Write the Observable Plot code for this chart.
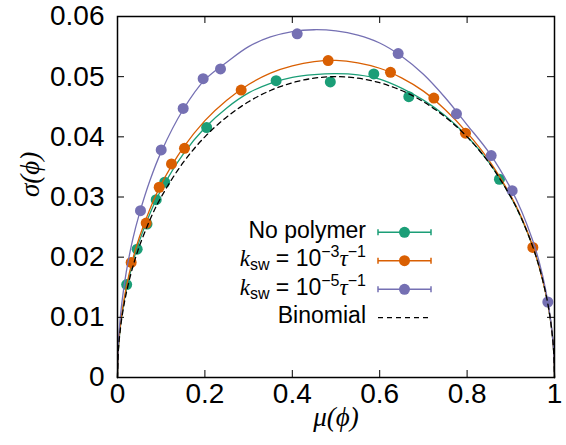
<!DOCTYPE html>
<html>
<head>
<meta charset="utf-8">
<script src="https://cdn.jsdelivr.net/npm/d3@7"></script>
<script src="https://cdn.jsdelivr.net/npm/@observablehq/plot@0.6"></script>
<style>
  html, body { margin: 0; padding: 0; background: #fff; }
</style>
</head>
<body>
<div id="chart"></div>
<script>
// ---- data ----
const xTicks = [0, 0.2, 0.4, 0.6, 0.8, 1];
const yTicks = [0, 0.01, 0.02, 0.03, 0.04, 0.05, 0.06];

// sampled positions along the fitted curves
const curveX = [0, 0.002, 0.005, 0.01, 0.02, 0.035, 0.05, 0.075, 0.1, 0.15, 0.2, 0.25, 0.3, 0.35, 0.4, 0.45, 0.5,
  0.55, 0.6, 0.65, 0.7, 0.75, 0.8, 0.85, 0.9, 0.925, 0.95, 0.965, 0.98, 0.99, 0.995, 0.998, 1];
const binomialY = [0, 0.00447, 0.00705, 0.00995, 0.0140, 0.01838, 0.02179, 0.02634, 0.0300, 0.03571, 0.0400, 0.0433, 0.04583, 0.0477, 0.04899, 0.04975, 0.0500,
  0.04975, 0.04899, 0.0477, 0.04583, 0.0433, 0.0400, 0.03571, 0.0300, 0.02634, 0.02179, 0.01838, 0.0140, 0.00995, 0.00705, 0.00447, 0];
const noPolymerFitY = [0, 0.00465, 0.00733, 0.01035, 0.01456, 0.01911, 0.02266, 0.02739, 0.0312, 0.0371, 0.0415, 0.0448, 0.0473, 0.0489, 0.0499, 0.05035, 0.0505,
  0.0503, 0.0496, 0.0481, 0.0461, 0.0435, 0.0401, 0.03575, 0.0300, 0.02634, 0.02179, 0.01838, 0.0140, 0.00995, 0.00705, 0.00447, 0];
const k3FitY = [0, 0.00478, 0.00754, 0.01065, 0.0150, 0.01967, 0.0233, 0.02815, 0.0321, 0.03815, 0.0427, 0.0461, 0.0487, 0.0506, 0.0518, 0.0525, 0.0527,
  0.0523, 0.0514, 0.0498, 0.0476, 0.0445, 0.0407, 0.0361, 0.0302, 0.0265, 0.02185, 0.0184, 0.0140, 0.00995, 0.00705, 0.00447, 0];
const k5FitY = [0, 0.0056, 0.0088, 0.01245, 0.0175, 0.0230, 0.0272, 0.0329, 0.0375, 0.0445, 0.0495, 0.0524, 0.0550, 0.0566, 0.0575, 0.0578, 0.0576,
  0.0569, 0.0556, 0.0534, 0.0504, 0.0465, 0.0420, 0.0374, 0.0314, 0.0276, 0.0228, 0.0192, 0.0145, 0.0102, 0.0072, 0.0046, 0];

// measured points
const noPolymerMu    = [0.021, 0.045, 0.0675, 0.0886, 0.108, 0.204, 0.363, 0.487, 0.5865, 0.6666, 0.874];
const noPolymerSigma = [0.01545, 0.02133, 0.0255, 0.02955, 0.03245, 0.04155, 0.04933, 0.04912, 0.05045, 0.04667, 0.03295];
const k3Mu    = [0.0313, 0.0656, 0.0954, 0.1236, 0.1533, 0.283, 0.482, 0.6247, 0.7239, 0.7963, 0.9504];
const k3Sigma = [0.01912, 0.02567, 0.03162, 0.0355, 0.0381, 0.04778, 0.05267, 0.05072, 0.04645, 0.04061, 0.02161];
const k5Mu    = [0.0526, 0.1, 0.1503, 0.196, 0.2357, 0.4112, 0.6423, 0.7757, 0.8551, 0.9031, 0.9847];
const k5Sigma = [0.02772, 0.03783, 0.04472, 0.04967, 0.05128, 0.05712, 0.05383, 0.04383, 0.03688, 0.03105, 0.01255];

const seriesNames = ["No polymer", "k3", "k5", "Binomial"];
const colors = {"No polymer": "#1b9e77", "k3": "#d95f02", "k5": "#7570b3"};

// ---- build tables ----
const fit = (ys) => curveX.map((x, i) => ({x, y: ys[i]}));
const pts = (xs, ys) => xs.map((x, i) => ({x, y: ys[i]}));

const W = 566, H = 445, mL = 117, mR = 12, mT = 16, mB = 68;
const innerW = W - mL - mR, innerH = H - mT - mB;
const tickLen = 7;
const sans = "'Liberation Sans', Arial, Helvetica, sans-serif";
const serif = "'Liberation Serif', 'DejaVu Serif', serif";

const lineW = 1.3, dotR = 5.5;

const chart = Plot.plot({
  width: W, height: H,
  marginLeft: mL, marginRight: mR, marginTop: mT, marginBottom: mB,
  style: {fontFamily: sans, background: "#fff", color: "#000"},
  x: {domain: [0, 1]},
  y: {domain: [0, 0.06]},
  marks: [
    Plot.line(fit(noPolymerFitY), {x: "x", y: "y", stroke: colors["No polymer"], strokeWidth: lineW, curve: "catmull-rom"}),
    Plot.dot(pts(noPolymerMu, noPolymerSigma), {x: "x", y: "y", r: dotR, fill: colors["No polymer"]}),
    Plot.line(fit(k3FitY), {x: "x", y: "y", stroke: colors["k3"], strokeWidth: lineW, curve: "catmull-rom"}),
    Plot.dot(pts(k3Mu, k3Sigma), {x: "x", y: "y", r: dotR, fill: colors["k3"]}),
    Plot.line(fit(k5FitY), {x: "x", y: "y", stroke: colors["k5"], strokeWidth: lineW, curve: "catmull-rom"}),
    Plot.dot(pts(k5Mu, k5Sigma), {x: "x", y: "y", r: dotR, fill: colors["k5"]}),
    Plot.line(fit(binomialY), {x: "x", y: "y", stroke: "#000", strokeWidth: 1.3, strokeDasharray: "5,4", curve: "catmull-rom"}),
    // inward ticks on all four sides
    Plot.tickX(xTicks, {x: d => d, insetTop: innerH - tickLen, stroke: "#000"}),
    Plot.tickX(xTicks, {x: d => d, insetBottom: innerH - tickLen, stroke: "#000"}),
    Plot.tickY(yTicks, {y: d => d, insetRight: innerW - tickLen, stroke: "#000"}),
    Plot.tickY(yTicks, {y: d => d, insetLeft: innerW - tickLen, stroke: "#000"}),
    Plot.frame({stroke: "#000", strokeWidth: 1.5}),
    Plot.axisX({ticks: xTicks, tickFormat: d => String(d), tickSize: 0, tickPadding: 6, fontSize: 28, label: null}),
    Plot.axisY({ticks: yTicks, tickFormat: d => String(d), tickSize: 0, tickPadding: 13, fontSize: 28, label: null}),
    Plot.text(["σ(ϕ)"], {frameAnchor: "left", dx: -87, rotate: -90, fontSize: 27, fontStyle: "italic", fontFamily: serif}),
    Plot.text(["μ(ϕ)"], {frameAnchor: "bottom", dy: 48, fontSize: 27, fontStyle: "italic", fontFamily: serif})
  ]
});
document.getElementById("chart").appendChild(chart);

// ---- legend (gnuplot-style key) ----
const svg = d3.select(chart);
const key = svg.append("g").attr("class", "key");
const rowY = [232.3, 260.7, 289.3, 317.7];
const textRight = 366, sx1 = 378, sx2 = 431, sxm = 404.5;
const legFont = 23;

rowY.forEach((y, i) => {
  const name = seriesNames[i];
  const t = key.append("text")
    .attr("x", textRight).attr("y", y + 5.5)
    .attr("text-anchor", "end")
    .attr("font-family", sans).attr("font-size", legFont).attr("fill", "#000");
  if (name === "No polymer" || name === "Binomial") {
    t.text(name);
  } else {
    const exp = name === "k3" ? "−3" : "−5";
    t.append("tspan").attr("font-family", serif).attr("font-style", "italic").text("k");
    t.append("tspan").attr("font-size", 16).attr("dy", 4).text("sw");
    t.append("tspan").attr("dy", -4).text(" = 10");
    t.append("tspan").attr("font-size", 16).attr("dy", -9).text(exp);
    t.append("tspan").attr("dy", 9).attr("font-family", serif).attr("font-style", "italic").text("τ");
    t.append("tspan").attr("font-size", 16).attr("dy", -9).text("−1");
  }
  if (name === "Binomial") {
    key.append("line").attr("x1", sx1).attr("x2", sx2 - 2).attr("y1", y).attr("y2", y)
      .attr("stroke", "#000").attr("stroke-width", 1.3).attr("stroke-dasharray", "5,4");
  } else {
    const c = colors[name];
    key.append("line").attr("x1", sx1).attr("x2", sx2).attr("y1", y).attr("y2", y)
      .attr("stroke", c).attr("stroke-width", 1.5);
    [sx1, sx2].forEach(x => key.append("line").attr("x1", x).attr("x2", x)
      .attr("y1", y - 3).attr("y2", y + 3).attr("stroke", c).attr("stroke-width", 1.5));
    key.append("circle").attr("cx", sxm).attr("cy", y).attr("r", dotR).attr("fill", c);
  }
});
</script>
</body>
</html>
